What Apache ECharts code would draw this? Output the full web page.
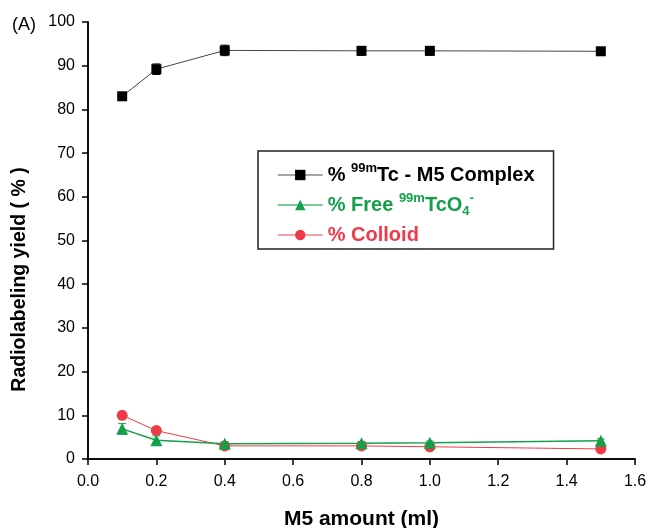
<!DOCTYPE html>
<html>
<head>
<meta charset="utf-8">
<script src="https://cdn.jsdelivr.net/npm/echarts@6/dist/echarts.min.js"></script>
<style>
html, body { margin: 0; padding: 0; background: #fff; }
#chart { width: 649px; height: 528px; }
</style>
</head>
<body>
<div id="chart"></div>
<script>
// values
var amounts = [0.1, 0.2, 0.4, 0.8, 1.0, 1.5];
var complexYield = [83.0, 89.2, 93.5, 93.4, 93.4, 93.3];
var complexErr = [0.5, 1.2, 1.2, 1.0, 1.0, 0.5];
var freeYield = [6.9, 4.3, 3.5, 3.6, 3.7, 4.2];
var freeErr = [1.2, 1.0, 0.4, 0.4, 0.4, 0.4];
var colloidYield = [10.0, 6.5, 3.0, 3.0, 2.8, 2.3];

var FONT = '"Liberation Sans", Arial, sans-serif';
var GREEN = '#14a04a';
var RED = '#f03a48';

function pairs(ys) {
    var out = [];
    for (var i = 0; i < amounts.length; i++) out.push([amounts[i], ys[i]]);
    return out;
}
function errData(ys, errs) {
    var out = [];
    for (var i = 0; i < amounts.length; i++) out.push([amounts[i], ys[i] - errs[i], ys[i] + errs[i]]);
    return out;
}
function errorBars(color) {
    return function (params, api) {
        var lo = api.coord([api.value(0), api.value(1)]);
        var hi = api.coord([api.value(0), api.value(2)]);
        var w = 4;
        var st = { stroke: color, lineWidth: 1 };
        return {
            type: 'group',
            children: [
                { type: 'line', shape: { x1: lo[0], y1: lo[1], x2: hi[0], y2: hi[1] }, style: st },
                { type: 'line', shape: { x1: lo[0] - w, y1: lo[1], x2: lo[0] + w, y2: lo[1] }, style: st },
                { type: 'line', shape: { x1: hi[0] - w, y1: hi[1], x2: hi[0] + w, y2: hi[1] }, style: st }
            ]
        };
    };
}

var chart = echarts.init(document.getElementById('chart'));
var axisLine = { show: true, lineStyle: { color: '#000', width: 1.5 } };

var option = {
    animation: false,
    title: {
        text: '(A)', left: 7, top: 11,
        textStyle: { fontFamily: FONT, fontSize: 18, fontWeight: 'normal', color: '#000' }
    },
    grid: { left: 88, right: 14, top: 22, bottom: 69, containLabel: false, outerBoundsMode: 'none' },
    xAxis: [{
        type: 'value', min: 0, max: 1.6, interval: 0.2,
        name: 'M5 amount (ml)', nameLocation: 'middle', nameGap: 50,
        nameTextStyle: { fontFamily: FONT, fontSize: 21, fontWeight: 'bold', color: '#000' },
        axisLine: axisLine,
        axisTick: { show: true, inside: false, length: 6, lineStyle: { color: '#000', width: 1.5 } },
        axisLabel: {
            fontFamily: FONT, fontSize: 16, color: '#000', margin: 15,
            formatter: function (v) { return v.toFixed(1); }
        },
        splitLine: { show: false }
    }, {
        type: 'value', position: 'top', min: 0, max: 1.6,
        axisLine: axisLine, axisTick: { show: false }, axisLabel: { show: false }, splitLine: { show: false }
    }],
    yAxis: [{
        type: 'value', min: 0, max: 100, interval: 10,
        name: 'Radiolabeling yield ( % )', nameLocation: 'middle', nameGap: 58,
        nameTextStyle: { fontFamily: FONT, fontSize: 19.5, fontWeight: 'bold', color: '#000', padding: [0, 78, 0, 0] },
        axisLine: axisLine,
        axisTick: { show: true, inside: false, length: 6, lineStyle: { color: '#000', width: 1.5 } },
        axisLabel: { fontFamily: FONT, fontSize: 16, color: '#000', margin: 13 },
        splitLine: { show: false }
    }, {
        type: 'value', position: 'right', min: 0, max: 100,
        axisLine: axisLine, axisTick: { show: false }, axisLabel: { show: false }, splitLine: { show: false }
    }],
    legend: {
        orient: 'vertical', left: 258, top: 151,
        padding: [11, 19, 4, 19],
        itemGap: 7, itemWidth: 45, itemHeight: 13, itemTextGap: 8,
        borderColor: '#222', borderWidth: 1.5, borderRadius: 0,
        data: [
            { name: 'complex', lineStyle: { color: '#888', width: 1.5 } },
            { name: 'free', lineStyle: { color: '#4cbb72', width: 1.5 } },
            { name: 'colloid', lineStyle: { color: '#f5808a', width: 1.5 } }
        ],
        formatter: function (name) {
            if (name === 'complex') return '{a|% }{s|99m}{a|Tc - M5 Complex}';
            if (name === 'free') return '{g|% Free }{gs|99m}{g|TcO}{gb|4}{gs|-}';
            return '{r|% Colloid}';
        },
        textStyle: {
            fontFamily: FONT,
            rich: {
                a: { fontFamily: FONT, fontSize: 20, fontWeight: 'bold', color: '#000', lineHeight: 26, verticalAlign: 'middle' },
                s: { fontFamily: FONT, fontSize: 13, fontWeight: 'bold', color: '#000', lineHeight: 13, verticalAlign: 'top' },
                g: { fontFamily: FONT, fontSize: 20, fontWeight: 'bold', color: GREEN, lineHeight: 26, verticalAlign: 'middle' },
                gs: { fontFamily: FONT, fontSize: 13, fontWeight: 'bold', color: GREEN, lineHeight: 13, verticalAlign: 'top' },
                gb: { fontFamily: FONT, fontSize: 13, fontWeight: 'bold', color: GREEN, lineHeight: 13, verticalAlign: 'bottom' },
                r: { fontFamily: FONT, fontSize: 20, fontWeight: 'bold', color: RED, lineHeight: 26, verticalAlign: 'middle' }
            }
        }
    },
    series: [{
        type: 'custom', name: 'complexErr', renderItem: errorBars('#000'),
        data: errData(complexYield, complexErr), z: 1, silent: true
    }, {
        type: 'custom', name: 'freeErr', renderItem: errorBars(GREEN),
        data: errData(freeYield, freeErr), z: 1, silent: true
    }, {
        name: 'complex', type: 'line', data: pairs(complexYield),
        symbol: 'rect', symbolSize: 10, showAllSymbol: true,
        itemStyle: { color: '#000' },
        lineStyle: { color: '#444', width: 1 }, z: 3
    }, {
        name: 'free', type: 'line', data: pairs(freeYield),
        symbol: 'triangle', symbolSize: 12,
        itemStyle: { color: GREEN },
        lineStyle: { color: GREEN, width: 1.5 }, z: 4
    }, {
        name: 'colloid', type: 'line', data: pairs(colloidYield),
        symbol: 'circle', symbolSize: 11,
        itemStyle: { color: RED },
        lineStyle: { color: RED, width: 1 }, z: 3
    }]
};
chart.setOption(option);
</script>
</body>
</html>
